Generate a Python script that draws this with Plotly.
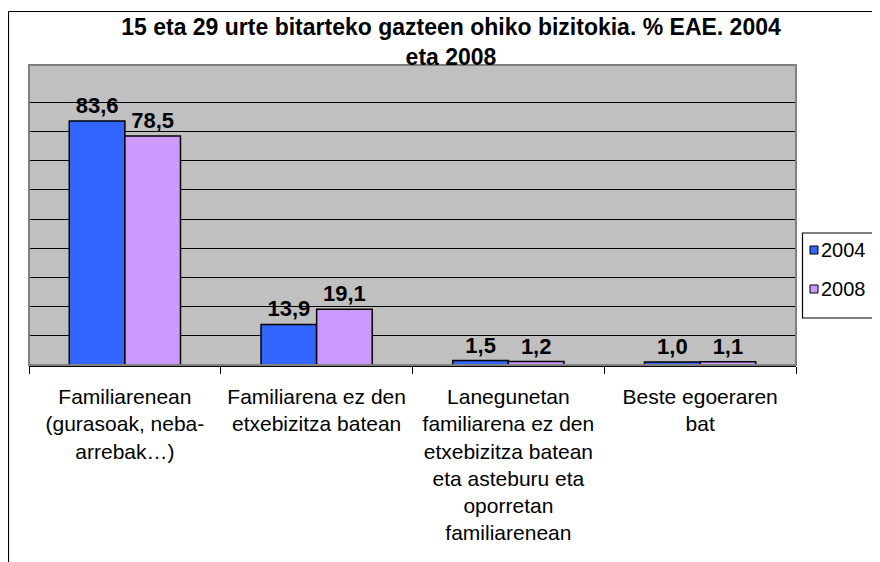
import plotly.graph_objects as go

# ---- data ----
categories = [
    "Familiarenean<br>(gurasoak, neba-<br>arrebak…)",
    "Familiarena ez den<br>etxebizitza batean",
    "Lanegunetan<br>familiarena ez den<br>etxebizitza batean<br>eta asteburu eta<br>oporretan<br>familiarenean",
    "Beste egoeraren<br>bat",
]
series_names = ["2004", "2008"]
values_2004 = [83.6, 13.9, 1.5, 1.0]
values_2008 = [78.5, 19.1, 1.2, 1.1]
title_text = "15 eta 29 urte bitarteko gazteen ohiko bizitokia. % EAE. 2004<br>eta 2008"
grid_values = [10, 20, 30, 40, 50, 60, 70, 80, 90]

# ---- layout geometry (pixels, figure coordinates; page adds an 8px body margin) ----
W, H = 872, 554
L, R, T, B = 21, 788, 57, 357
colors = ["#3366FF", "#CC99FF"]
FONT = "Liberation Sans, Arial, sans-serif"


def px_x(x):
    return (x - L) / (R - L)


def px_y(y):
    return (B - y) / (B - T)


fig = go.Figure()
for name, vals, col in zip(series_names, [values_2004, values_2008], colors):
    fig.add_trace(go.Bar(
        x=categories, y=vals, name=name,
        marker=dict(color=col, line=dict(color="black", width=1.5)),
        texttemplate="%{y:.1f}", textposition="outside",
        textfont=dict(family=FONT, size=22, color="black", weight="bold"),
        cliponaxis=False, showlegend=False,
    ))

shapes = [
    # plot area border (grey)
    dict(type="rect", xref="paper", yref="paper", x0=0, x1=1, y0=0, y1=1,
         line=dict(color="#808080", width=2), layer="above"),
    # outer chart frame
    dict(type="line", xref="paper", yref="paper", x0=px_x(0.5), x1=px_x(W + 2),
         y0=px_y(3.5), y1=px_y(3.5), line=dict(color="black", width=1.2)),
    dict(type="line", xref="paper", yref="paper", x0=px_x(0.5), x1=px_x(0.5),
         y0=px_y(3.5), y1=px_y(H + 5), line=dict(color="black", width=1.2)),
    # legend box
    dict(type="rect", xref="paper", yref="paper", x0=px_x(794.5), x1=px_x(874),
         y0=px_y(310), y1=px_y(225), line=dict(color="black", width=1.2),
         fillcolor="white"),
]
annotations = []
legend_rows = [242, 281]
for name, col, yc in zip(series_names, colors, legend_rows):
    shapes.append(dict(type="rect", xref="paper", yref="paper",
                       x0=px_x(802), x1=px_x(810), y0=px_y(yc + 4), y1=px_y(yc - 4),
                       fillcolor=col, line=dict(color="black", width=1)))
    annotations.append(dict(xref="paper", yref="paper", x=px_x(810.5), y=px_y(yc),
                            xanchor="left", yanchor="middle", text=name, showarrow=False,
                            font=dict(family=FONT, size=20, color="black")))

fig.update_layout(
    width=W, height=H,
    margin=dict(l=L, r=W - R, t=T, b=H - B, pad=0),
    paper_bgcolor="white", plot_bgcolor="#C0C0C0",
    separators=",.",
    barmode="group", bargap=0.42, bargroupgap=0,
    font=dict(family=FONT, color="black"),
    title=dict(text="<b>" + title_text + "</b>", x=443 / W, xref="container",
               xanchor="center", y=1 - 27 / H, yref="container", yanchor="top",
               font=dict(family=FONT, size=23, color="black")),
    shapes=shapes, annotations=annotations,
    showlegend=False,
)
fig.update_xaxes(
    showline=True, linecolor="black", linewidth=1.5,
    ticks="outside", tickson="boundaries", ticklen=7, tickcolor="black", tickwidth=1,
    ticklabelstandoff=12,
    tickfont=dict(family=FONT, size=21, color="black"),
    showgrid=False, fixedrange=True,
)
fig.update_yaxes(
    range=[0, 102.8], tickvals=grid_values, showticklabels=False,
    showgrid=True, gridcolor="black", gridwidth=1, zeroline=False,
    showline=False, fixedrange=True,
)

fig.write_html("out.html")
